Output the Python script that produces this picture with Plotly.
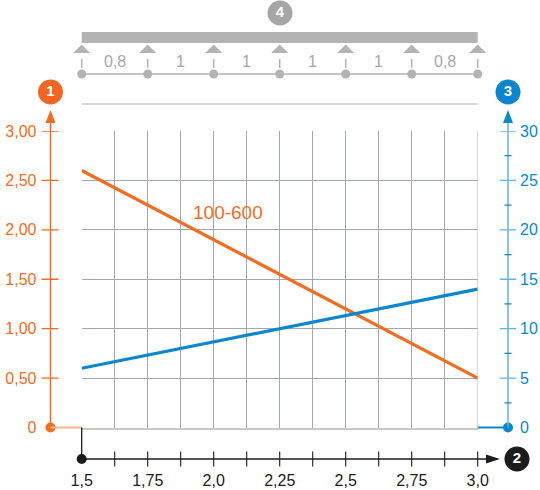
import plotly.graph_objects as go

# ==================== 数据 ====================
SPAN = [1.5, 3.0]
LOAD_100_600 = [2.60, 0.50]       # 左轴 (1)
DEFLECTION = [6.0, 14.0]          # 右轴 (3)
CURVE_LABEL = "100-600"
CURVE_LABEL_POS = (2.055, 2.18)

X_TICKS = [1.5, 1.75, 2.0, 2.25, 2.5, 2.75, 3.0]
X_TICK_LABELS = ["1,5", "1,75", "2,0", "2,25", "2,5", "2,75", "3,0"]
X_MINOR = [1.625, 1.75, 1.875, 2.0, 2.125, 2.25, 2.375, 2.5, 2.625, 2.75, 2.875, 3.0]

Y1_TICKS = [0, 0.5, 1.0, 1.5, 2.0, 2.5, 3.0]
Y1_TICK_LABELS = ["0", "0,50", "1,00", "1,50", "2,00", "2,50", "3,00"]
Y2_TICKS = [0, 5, 10, 15, 20, 25, 30]
Y2_TICK_LABELS = ["0", "5", "10", "15", "20", "25", "30"]
Y2_MINOR = [2.5, 7.5, 12.5, 17.5, 22.5, 27.5]

BEAM_SUPPORTS = [1.5, 1.75, 2.0, 2.25, 2.5, 2.75, 3.0]
BEAM_SPANS = ["0,8", "1", "1", "1", "1", "0,8"]

# ==================== 样式 ====================
W, H = 540, 490
PX_L, PX_R = 81.7, 477.7
PX_T, PX_B = 131, 427.5
AX_L, AX_R = 50.5, 508
AX_BOTTOM = 459

FONT = "Liberation Sans, Arial, Helvetica, sans-serif"
ORANGE = "#f26d21"
ORANGE_LIGHT = "#f9b68a"
BLUE = "#0a87cf"
BLUE_LIGHT = "#5fb4e6"
GREY = "#b3b3b3"
GREY_TEXT = "#a8a8a8"
GRID = "#a0a9b1"
BORDER = "#c8c8c8"
BLACK = "#1c1c1c"

# 全幅 x 轴 (x3) 与主 x 轴同比例, 用于不被裁剪的装饰
_scale = (PX_R - PX_L) / (SPAN[1] - SPAN[0])
X3_RANGE = [SPAN[0] - PX_L / _scale, SPAN[0] + (W - PX_L) / _scale]


def tri(cx, cy, w, h, direction="up"):
    """三角形路径 (像素坐标)"""
    if direction == "up":
        return f"M{cx - w / 2},{cy + h / 2} L{cx + w / 2},{cy + h / 2} L{cx},{cy - h / 2} Z"
    return f"M{cx - h / 2},{cy - w / 2} L{cx - h / 2},{cy + w / 2} L{cx + h / 2},{cy} Z"


def pline(x0, y0, x1, y1, color, width=1.5, xref="x2", yref="y3", layer="above"):
    return dict(type="line", x0=x0, y0=y0, x1=x1, y1=y1, xref=xref, yref=yref,
                line=dict(color=color, width=width), layer=layer)


def ppath(path, color):
    return dict(type="path", path=path, xref="x2", yref="y3",
                fillcolor=color, line=dict(width=0), layer="above")


fig = go.Figure()

# 数据曲线
fig.add_trace(go.Scatter(x=SPAN, y=LOAD_100_600, mode="lines",
                         line=dict(color=ORANGE, width=3.2), hoverinfo="skip"))
fig.add_trace(go.Scatter(x=SPAN, y=DEFLECTION, mode="lines", yaxis="y2",
                         line=dict(color=BLUE, width=3.2), hoverinfo="skip"))

shapes = []

# 边框 (右)
shapes.append(pline(SPAN[1], Y1_TICKS[0], SPAN[1], Y1_TICKS[-1], BORDER, 1.5,
                    xref="x", yref="y", layer="between"))

# 左轴
shapes.append(pline(AX_L, 123, AX_L, PX_B, ORANGE))
shapes.append(ppath(tri(AX_L, 116.5, 10, 13), ORANGE))
shapes.append(pline(AX_L, PX_B, PX_L, PX_B, ORANGE_LIGHT, 2))
for v in Y1_TICKS[1:]:
    shapes.append(pline(AX_L - 9, v, AX_L + 8, v, ORANGE, 1.3, yref="y"))

# 右轴
shapes.append(pline(AX_R, 123, AX_R, PX_B, BLUE_LIGHT))
shapes.append(ppath(tri(AX_R, 116.5, 10, 13), BLUE))
shapes.append(pline(PX_R, PX_B, AX_R, PX_B, BLUE, 2))
for v in Y2_TICKS[1:]:
    shapes.append(pline(AX_R - 8, v, AX_R + 8, v, BLUE_LIGHT, 1.3, yref="y2"))
for v in Y2_MINOR:
    shapes.append(pline(AX_R - 3.5, v, AX_R + 3.5, v, BLUE, 1.2, yref="y2"))

# 下轴
shapes.append(pline(PX_L, PX_B, PX_L, AX_BOTTOM, BLACK, 1.3))
shapes.append(pline(PX_L, AX_BOTTOM, 490, AX_BOTTOM, BLACK, 1.3))
shapes.append(ppath(tri(493, AX_BOTTOM, 9, 14, "right"), BLACK))
for v in X_MINOR:
    shapes.append(pline(v, AX_BOTTOM - 7.5, v, AX_BOTTOM + 7.5, BLACK, 1.1, xref="x3"))

# 梁示意图
shapes.append(dict(type="rect", xref="x3", yref="y3", x0=SPAN[0], x1=SPAN[1], y0=32, y1=43,
                   fillcolor=GREY, line=dict(width=0)))
shapes.append(pline(SPAN[0], 74, SPAN[1], 74, GREY, 1.5, xref="x3"))
shapes.append(pline(SPAN[0], 104, SPAN[1], 104, BORDER, 1.5, xref="x3"))
for s in BEAM_SUPPORTS:
    shapes.append(pline(s, 59, s, 68, GREY, 1.5, xref="x3"))
    shapes.append(dict(type="path", xref="x3", yref="y3", xsizemode="pixel", xanchor=s,
                       path="M-8.5,53 L8.5,53 L0,44.5 Z",
                       fillcolor=GREY, line=dict(width=0)))

fig.update_layout(shapes=shapes)

# 梁上圆点
fig.add_trace(go.Scatter(x=BEAM_SUPPORTS, y=[74] * len(BEAM_SUPPORTS), xaxis="x3", yaxis="y3",
                         mode="markers", marker=dict(color=GREY, size=9), cliponaxis=False,
                         hoverinfo="skip"))

# 轴端点
fig.add_trace(go.Scatter(x=[AX_L, AX_R, PX_L], y=[PX_B, PX_B, AX_BOTTOM], xaxis="x2", yaxis="y3",
                         mode="markers", marker=dict(color=[ORANGE, BLUE, BLACK], size=10),
                         cliponaxis=False, hoverinfo="skip"))

# 编号圆
fig.add_trace(go.Scatter(x=[AX_L, 517, AX_R, 280], y=[92, AX_BOTTOM, 92, 13],
                         xaxis="x2", yaxis="y3", mode="markers+text",
                         text=["1", "2", "3", "4"], textposition="middle center",
                         textfont=dict(family=FONT, size=15, color="white", weight="bold"),
                         marker=dict(color=["#f26522", BLACK, "#0a85d0", "#a6a6a6"], size=25),
                         cliponaxis=False, hoverinfo="skip"))

annotations = []
for i, lab in enumerate(BEAM_SPANS):
    mid = (BEAM_SUPPORTS[i] + BEAM_SUPPORTS[i + 1]) / 2
    annotations.append(dict(x=mid, y=61, xref="x3", yref="y3", text=lab, showarrow=False,
                            font=dict(family=FONT, size=16, color=GREY_TEXT)))
annotations.append(dict(x=CURVE_LABEL_POS[0], y=CURVE_LABEL_POS[1], xref="x", yref="y",
                        text=CURVE_LABEL, showarrow=False,
                        font=dict(family=FONT, size=19, color=ORANGE)))

hidden = dict(domain=[0, 1], visible=False, automargin=False, fixedrange=True)

fig.update_layout(
    width=W, height=H,
    margin=dict(l=0, r=0, t=0, b=0, pad=0, autoexpand=False),
    paper_bgcolor="white",
    plot_bgcolor="rgba(0,0,0,0)",
    showlegend=False,
    annotations=annotations,
    font=dict(family=FONT, size=16, color=BLACK),
    xaxis=dict(
        domain=[PX_L / W, PX_R / W], range=SPAN, anchor="y", automargin=False,
        tickvals=X_TICKS, ticktext=X_TICK_LABELS, ticks="",
        ticklabelstandoff=38, tickfont=dict(size=16, color=BLACK),
        showgrid=True, gridcolor=GRID, gridwidth=1,
        minor=dict(dtick=0.125, showgrid=True, gridcolor=GRID, gridwidth=1),
        showline=True, linecolor=BORDER, linewidth=1.5,
        zeroline=False, fixedrange=True,
    ),
    yaxis=dict(
        domain=[(H - PX_B) / H, (H - PX_T) / H], range=[Y1_TICKS[0], Y1_TICKS[-1]],
        anchor="free", position=AX_L / W, automargin=False,
        tickvals=Y1_TICKS, ticktext=Y1_TICK_LABELS, ticks="",
        ticklabelstandoff=14, tickfont=dict(size=16, color=ORANGE),
        showgrid=True, gridcolor=GRID, gridwidth=1,
        showline=False, zeroline=False, fixedrange=True,
    ),
    yaxis2=dict(
        range=[Y2_TICKS[0], Y2_TICKS[-1]], overlaying="y", side="right",
        anchor="free", position=AX_R / W, automargin=False,
        tickvals=Y2_TICKS, ticktext=Y2_TICK_LABELS, ticks="",
        ticklabelstandoff=11, tickfont=dict(size=16, color=BLUE),
        showgrid=False, showline=False, zeroline=False, fixedrange=True,
    ),
    xaxis2=dict(range=[0, W], anchor="y3", **hidden),
    xaxis3=dict(range=X3_RANGE, anchor="y3", **hidden),
    yaxis3=dict(range=[H, 0], anchor="x2", **hidden),
)

fig.write_html("out.html", config={"displayModeBar": False},
               post_script="document.body.style.margin = '0';")
